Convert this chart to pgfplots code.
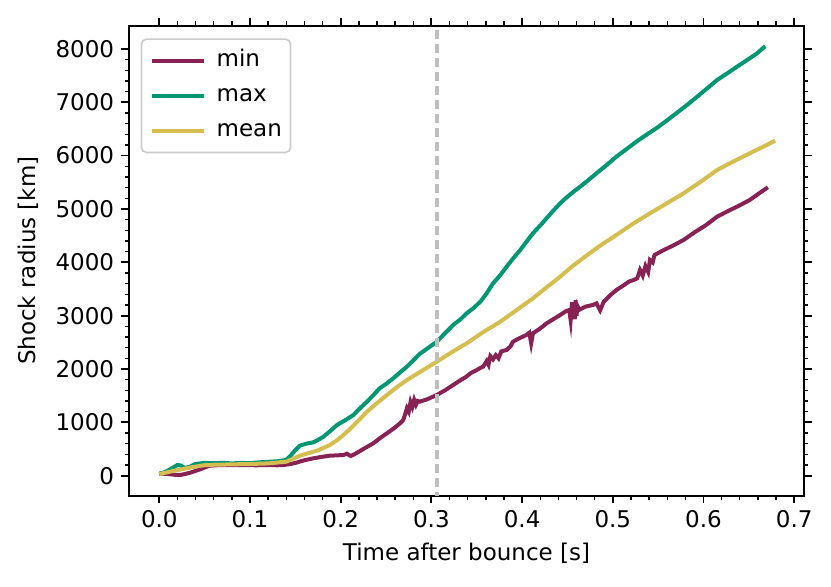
\documentclass[border=0pt]{standalone}
\usepackage{pgfplots}
\pgfplotsset{compat=1.18}
\usepackage{fontspec}
\setmainfont{DejaVu Sans}
\definecolor{cmin}{RGB}{136,34,85}
\definecolor{cmax}{RGB}{0,150,115}
\definecolor{cmean}{RGB}{212,190,80}
\newcommand\fs{\fontsize{11.5}{13.8}\selectfont}
\begin{document}
\begin{tikzpicture}
\path[use as bounding box] (-64.5pt,-45.65pt) rectangle (351pt,247.85pt);
\begin{axis}[
 scale only axis, width=337.5pt, height=235pt,
 xmin=-0.0334, xmax=0.7108, ymin=-375, ymax=8435,
 xtick={0,0.1,0.2,0.3,0.4,0.5,0.6,0.7},
 ytick={0,1000,2000,3000,4000,5000,6000,7000,8000},
 minor x tick num=4, minor y tick num=4,
 tick align=outside, tick pos=both,
 major tick length=3.9pt, minor tick length=2.2pt,
 every tick/.style={black, line width=0.9pt},
 every minor tick/.style={black, line width=0.7pt},
 axis line style={line width=1.1pt},
 xticklabel style={/pgf/number format/.cd, fixed, fixed zerofill, precision=1},
 yticklabel style={/pgf/number format/.cd, fixed, 1000 sep={}},
 /pgf/number format/assume math mode=true,
 tick label style={font=\fs, black},
 xlabel={Time after bounce [s]}, ylabel={Shock radius [km]},
 label style={font=\fs},
 xlabel style={at={(axis description cs:0.5,-0.1234)}, anchor=center},
 ylabel style={at={(axis description cs:-0.1496,0.5)}, anchor=center},
 legend style={at={(0,1)}, anchor=north west, xshift=5.85pt, yshift=-6.3pt,
   draw=black!20, line width=0.8pt, rounded corners=2.5pt, fill=white, fill opacity=0.8, text opacity=1,
   font=\fs, inner xsep=4.3pt, inner ysep=5.35pt, row sep=6.5pt,
   nodes={inner sep=0pt, text height=8.5pt, text depth=2.5pt}},
 legend cell align=left,
 legend image code/.code={\draw[#1, line width=2pt, rounded corners=0pt] (-1.5pt,0pt) -- (24.5pt,0pt); \path (29.8pt,0pt);},
]
\addplot[cmin, line width=2pt] coordinates {
(0.000,45) (0.006,35) (0.012,26) (0.018,15) (0.023,13) (0.028,30) (0.034,56) (0.040,90)
(0.045,120) (0.051,160) (0.056,187) (0.065,198) (0.082,200) (0.095,198) (0.107,195)
(0.120,200) (0.130,195) (0.137,200) (0.145,220) (0.151,244) (0.160,290) (0.170,326)
(0.180,355) (0.188,375) (0.195,380) (0.203,388) (0.207,410) (0.211,369) (0.215,400)
(0.222,470) (0.229,540) (0.236,607) (0.243,700) (0.251,795) (0.258,880) (0.264,960)
(0.269,1044) (0.271,1150) (0.273,1263) (0.275,1200) (0.277,1380) (0.279,1290) (0.281,1420)
(0.283,1330) (0.285,1400) (0.287,1387) (0.295,1430) (0.306,1513) (0.315,1600) (0.324,1700)
(0.333,1800) (0.338,1850) (0.343,1919) (0.350,1980) (0.354,2020) (0.357,2043) (0.361,2150) (0.363,2080) (0.365,2240)
(0.368,2180) (0.371,2260) (0.374,2200) (0.377,2330) (0.383,2356) (0.387,2420) (0.390,2512)
(0.395,2560) (0.400,2600) (0.405,2640) (0.408,2680) (0.410,2482) (0.412,2669) (0.420,2760)
(0.427,2856) (0.435,2940) (0.442,3012) (0.448,3080) (0.452,3106) (0.4535,2920) (0.455,3250)
(0.456,2950) (0.457,3200) (0.458,2930) (0.459,3290) (0.460,3000) (0.461,3180) (0.463,3110)
(0.470,3170) (0.478,3200) (0.482,3230) (0.486,3100) (0.490,3260) (0.497,3380) (0.504,3481)
(0.513,3580) (0.518,3640) (0.523,3668) (0.527,3700) (0.530,3856) (0.533,3750) (0.536,3930)
(0.539,3820) (0.541,4043) (0.544,4000) (0.546,4137) (0.555,4220) (0.566,4310) (0.578,4418)
(0.590,4560) (0.603,4700) (0.615,4855) (0.627,4960) (0.639,5060) (0.651,5168) (0.662,5300)
(0.671,5406)
};
\addlegendentry{min}
\addplot[cmax, line width=2pt] coordinates {
(0.000,30) (0.005,60) (0.010,100) (0.015,150) (0.020,200) (0.024,190) (0.028,145) (0.034,170)
(0.040,220) (0.045,230) (0.050,240) (0.060,235) (0.070,240) (0.080,230) (0.090,240) (0.100,235)
(0.110,250) (0.120,260) (0.130,270) (0.140,295) (0.145,380) (0.150,480) (0.155,562) (0.162,600)
(0.170,626) (0.176,680) (0.181,731) (0.188,830) (0.196,950) (0.199,982) (0.206,1050) (0.214,1138)
(0.221,1260) (0.229,1387) (0.236,1510) (0.243,1638) (0.250,1720) (0.258,1826) (0.265,1930)
(0.273,2043) (0.280,2160) (0.287,2281) (0.296,2390) (0.306,2512) (0.315,2670) (0.324,2825)
(0.332,2930) (0.339,3044) (0.347,3150) (0.354,3262) (0.361,3420) (0.368,3606) (0.376,3760)
(0.383,3918) (0.390,4070) (0.398,4231) (0.405,4390) (0.412,4544) (0.420,4690) (0.427,4825)
(0.434,4960) (0.442,5106) (0.450,5230) (0.458,5340) (0.464,5417) (0.473,5540) (0.482,5668)
(0.493,5820) (0.504,5980) (0.515,6120) (0.526,6261) (0.537,6390) (0.548,6512) (0.559,6650)
(0.570,6793) (0.582,6950) (0.593,7104) (0.604,7260) (0.615,7417) (0.626,7540) (0.637,7667)
(0.648,7790) (0.659,7917) (0.668,8050)
};
\addlegendentry{max}
\addplot[cmean, line width=2pt] coordinates {
(0.000,30) (0.013,80) (0.026,125) (0.038,165) (0.049,195) (0.060,205) (0.080,212) (0.100,219)
(0.120,230) (0.140,262) (0.148,320) (0.155,375) (0.165,425) (0.174,469) (0.181,520) (0.188,575)
(0.196,665) (0.203,763) (0.210,870) (0.220,1040) (0.229,1200) (0.240,1360) (0.251,1513)
(0.262,1660) (0.273,1794) (0.290,1970) (0.306,2137) (0.322,2310) (0.339,2482) (0.357,2690)
(0.376,2887) (0.394,3105) (0.412,3325) (0.427,3530) (0.442,3730) (0.455,3920) (0.467,4075)
(0.485,4300) (0.504,4512) (0.522,4720) (0.541,4918) (0.560,5110) (0.578,5293) (0.597,5510)
(0.615,5730) (0.633,5890) (0.651,6043) (0.665,6160) (0.679,6279)
};
\addlegendentry{mean}
\addplot[forget plot, color={rgb,255:red,190;green,190;blue,190}, line width=1.7pt, dash pattern=on 4.6pt off 2.4pt] coordinates {(0.306,-1000) (0.306,9000)};
\end{axis}
\end{tikzpicture}
\end{document}
